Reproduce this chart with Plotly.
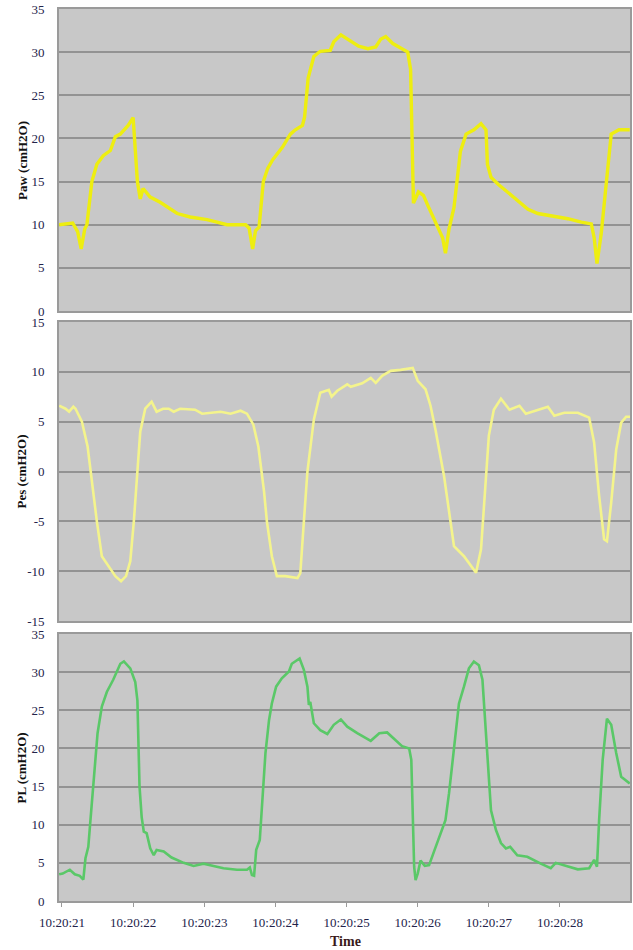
import plotly.graph_objects as go

# ---- data (time in seconds after 10:20:00) ----
t_paw = [20.96, 21.05, 21.15, 21.22, 21.27, 21.32, 21.35, 21.42, 21.49, 21.58, 21.68, 21.75, 21.82,
         21.93, 22.0, 22.06, 22.1, 22.14, 22.24, 22.38, 22.48, 22.62, 22.8, 23.04, 23.18, 23.32,
         23.58, 23.63, 23.68, 23.72, 23.77, 23.83, 23.89, 23.96, 24.1, 24.21, 24.28, 24.38, 24.41,
         24.46, 24.54, 24.63, 24.77, 24.82, 24.92, 25.06, 25.17, 25.3, 25.41, 25.48, 25.55, 25.65,
         25.76, 25.86, 25.9, 25.94, 26.01, 26.08, 26.15, 26.28, 26.35, 26.39, 26.44, 26.51, 26.56,
         26.6, 26.68, 26.79, 26.89, 26.96, 26.98, 27.03, 27.13, 27.27, 27.41, 27.55, 27.69, 27.92,
         28.11, 28.3, 28.44, 28.48, 28.52, 28.58, 28.65, 28.72, 28.83, 28.98]
paw = [10.0, 10.1, 10.2, 9.2, 7.2, 9.5, 10.0, 15.0, 17.0, 18.0, 18.6, 20.2, 20.5,
       21.5, 22.4, 15.0, 13.0, 14.2, 13.2, 12.6, 12.1, 11.3, 10.9, 10.6, 10.3, 10.0,
       10.0, 9.6, 7.2, 9.3, 9.7, 15.0, 16.5, 17.5, 19.0, 20.5, 21.0, 21.5, 22.5,
       27.0, 29.5, 30.1, 30.2, 31.2, 32.0, 31.3, 30.7, 30.4, 30.6, 31.5, 31.8, 31.0,
       30.5, 30.0, 28.0, 12.5, 13.8, 13.4, 12.1, 9.8, 8.5, 6.7, 9.5, 12.0, 16.0,
       18.5, 20.5, 21.0, 21.7, 21.0, 17.0, 15.5, 14.7, 13.7, 12.8, 11.8, 11.3, 11.0,
       10.7, 10.3, 10.1, 8.5, 5.5, 9.0, 15.0, 20.5, 21.0, 21.0]

t_pes = [20.96, 21.05, 21.1, 21.16, 21.19, 21.28, 21.36, 21.4, 21.49, 21.56, 21.65, 21.75, 21.83,
         21.9, 21.96, 22.01, 22.06, 22.1, 22.17, 22.26, 22.33, 22.42, 22.5, 22.57, 22.66, 22.87,
         22.97, 23.13, 23.23, 23.37, 23.51, 23.6, 23.69, 23.76, 23.84, 23.88, 23.95, 24.02, 24.14,
         24.31, 24.35, 24.4, 24.45, 24.54, 24.63, 24.75, 24.79, 24.87, 25.01, 25.06, 25.22, 25.34,
         25.41, 25.5, 25.62, 25.76, 25.93, 26.0, 26.11, 26.18, 26.25, 26.37, 26.44, 26.51, 26.65,
         26.82, 26.89, 26.96, 27.0, 27.07, 27.17, 27.29, 27.43, 27.52, 27.71, 27.83, 27.92, 28.06,
         28.25, 28.41, 28.48, 28.55, 28.62, 28.66, 28.72, 28.79, 28.86, 28.93, 28.99]
pes = [6.6, 6.3, 6.0, 6.5, 6.3, 5.0, 2.5, 0.0, -5.0, -8.5, -9.5, -10.5, -11.0,
       -10.5, -9.0, -5.0, 0.0, 4.0, 6.3, 7.0, 6.0, 6.3, 6.3, 6.0, 6.3, 6.2,
       5.8, 5.9, 6.0, 5.8, 6.1, 5.8, 4.7, 2.5, -2.0, -5.0, -8.5, -10.5, -10.5,
       -10.7, -10.2, -5.0, 0.0, 5.2, 7.9, 8.2, 7.5, 8.1, 8.75, 8.5, 8.85, 9.4,
       8.9, 9.6, 10.1, 10.2, 10.4, 9.1, 8.25, 6.6, 4.2, -0.45, -3.8, -7.5, -8.5,
       -10.15, -7.8, -0.45, 3.6, 6.2, 7.3, 6.2, 6.6, 5.8, 6.2, 6.5, 5.6, 5.9,
       5.9, 5.4, 2.9, -2.45, -6.8, -7.0, -3.1, 2.2, 4.9, 5.5, 5.5]

t_pl = [20.96, 21.01, 21.11, 21.18, 21.25, 21.3, 21.33, 21.37, 21.4, 21.45, 21.5, 21.56, 21.63,
        21.72, 21.82, 21.87, 21.96, 22.03, 22.06, 22.09, 22.12, 22.15, 22.19, 22.24, 22.29, 22.33,
        22.43, 22.54, 22.71, 22.85, 22.99, 23.13, 23.27, 23.46, 23.6, 23.64, 23.67, 23.7, 23.73,
        23.78, 23.81, 23.86, 23.91, 23.95, 24.01, 24.09, 24.19, 24.23, 24.34, 24.4, 24.45, 24.47,
        24.49, 24.54, 24.63, 24.73, 24.82, 24.92, 25.01, 25.15, 25.34, 25.46, 25.57, 25.67, 25.78,
        25.88, 25.91, 25.95, 25.97, 26.0, 26.04, 26.1, 26.16, 26.23, 26.32, 26.39, 26.44, 26.51,
        26.58, 26.65, 26.72, 26.79, 26.86, 26.91, 26.94, 26.98, 27.03, 27.1, 27.17, 27.24, 27.3,
        27.4, 27.54, 27.73, 27.87, 27.94, 28.11, 28.25, 28.41, 28.48, 28.52, 28.55, 28.6, 28.66,
        28.72, 28.79, 28.86, 28.98]
pl = [3.5, 3.6, 4.1, 3.5, 3.3, 2.8, 5.6, 7.1, 10.6, 16.7, 22.0, 25.5, 27.4,
      29.0, 31.1, 31.4, 30.5, 28.7, 26.3, 15.0, 11.0, 9.1, 8.9, 6.9, 6.0, 6.7,
      6.5, 5.7, 5.0, 4.6, 4.9, 4.6, 4.3, 4.1, 4.1, 4.4, 3.4, 3.3, 6.7,
      8.0, 12.4, 19.4, 23.7, 25.9, 28.1, 29.2, 30.1, 31.1, 31.8, 30.3, 28.1, 25.7,
      26.1, 23.3, 22.4, 21.9, 23.1, 23.8, 22.85, 22.0, 21.0, 22.0, 22.1, 21.2, 20.3,
      20.0, 18.5, 4.5, 2.75, 3.6, 5.3, 4.6, 4.7, 6.5, 8.9, 10.6, 14.1, 20.2,
      25.9, 28.1, 30.5, 31.4, 30.9, 29.0, 24.6, 18.5, 11.9, 9.3, 7.6, 6.9, 7.1,
      6.0, 5.8, 4.9, 4.3, 5.0, 4.5, 4.15, 4.3, 5.4, 4.5, 10.6, 18.5, 23.9,
      23.1, 19.4, 16.3, 15.4]

tick_vals = [21, 22, 23, 24, 25, 26, 27, 28]
tick_text = ["10:20:21", "10:20:22", "10:20:23", "10:20:24",
             "10:20:25", "10:20:26", "10:20:27", "10:20:28"]

pres_ticks = [0, 5, 10, 15, 20, 25, 30, 35]
pes_ticks = [-15, -10, -5, 0, 5, 10, 15]
pes_tick_text = ["-15", "-10", "-5", "0", "5", "10", "15"]

y_titles = ["Paw (cmH2O)", "Pes (cmH2O)", "PL (cmH2O)"]

# ---- figure ----
SERIF = "Liberation Serif, Times New Roman, serif"
TICK_COLOR = "#23234a"
BG = "#c8c8c8"
GRID = "#939393"
LINE = "#9a9a9a"

fig = go.Figure()
fig.add_trace(go.Scatter(x=t_paw, y=paw, mode="lines", xaxis="x", yaxis="y",
                         line=dict(color="#eeee10", width=3.4), showlegend=False))
fig.add_trace(go.Scatter(x=t_pes, y=pes, mode="lines", xaxis="x2", yaxis="y2",
                         line=dict(color="#f4f48c", width=2.6), showlegend=False))
fig.add_trace(go.Scatter(x=t_pl, y=pl, mode="lines", xaxis="x3", yaxis="y3",
                         line=dict(color="#5ac868", width=2.6), showlegend=False))

xr = [20.958, 28.984]
domains = [[0.6614, 1.0], [0.3139, 0.6491], [0.0, 0.2993]]
yranges = [[0, 35], [-15, 15], [0, 35]]

common_x = dict(range=xr, showgrid=False, zeroline=False, showline=True, mirror=True,
                linecolor=LINE, linewidth=1.5, tickvals=tick_vals, ticktext=tick_text,
                tickfont=dict(family=SERIF, size=13, color=TICK_COLOR), automargin=False)
common_y = dict(showgrid=True, gridcolor=GRID, gridwidth=1.5, zeroline=False, showline=True,
                mirror=True, linecolor=LINE, linewidth=1.8,
                tickfont=dict(family=SERIF, size=13, color=TICK_COLOR), ticks="",
                ticklabelstandoff=10, automargin=False)

fig.update_layout(
    width=633, height=950,
    margin=dict(l=59, r=3, t=9, b=49),
    paper_bgcolor="white", plot_bgcolor=BG,
    xaxis=dict(common_x, anchor="y", showticklabels=False, ticks=""),
    xaxis2=dict(common_x, anchor="y2", matches="x", showticklabels=False, ticks=""),
    xaxis3=dict(common_x, anchor="y3", matches="x", ticks="outside", ticklen=4, tickcolor=LINE,
                ticklabelstandoff=5),
    yaxis=dict(common_y, domain=domains[0], range=yranges[0], anchor="x",
               tickvals=pres_ticks),
    yaxis2=dict(common_y, domain=domains[1], range=yranges[1], anchor="x2",
                tickvals=pes_ticks, ticktext=pes_tick_text),
    yaxis3=dict(common_y, domain=domains[2], range=yranges[2], anchor="x3",
                tickvals=pres_ticks),
)

for title, dom in zip(y_titles, domains):
    fig.add_annotation(text="<b>" + title + "</b>", xref="paper", yref="paper",
                       x=-0.0648, y=(dom[0] + dom[1]) / 2, xanchor="center", yanchor="middle",
                       textangle=-90, showarrow=False,
                       font=dict(family=SERIF, size=13, color="#111111"))

fig.add_annotation(text="<b>Time</b>", xref="paper", yref="paper", x=0.5009, y=-0.0455,
                   xanchor="center", yanchor="middle", showarrow=False,
                   font=dict(family=SERIF, size=14, color="#3a1a1a"))

fig.write_html("out.html", config={"displayModeBar": False},
               post_script="document.body.style.margin='0';document.body.style.overflow='hidden';")
